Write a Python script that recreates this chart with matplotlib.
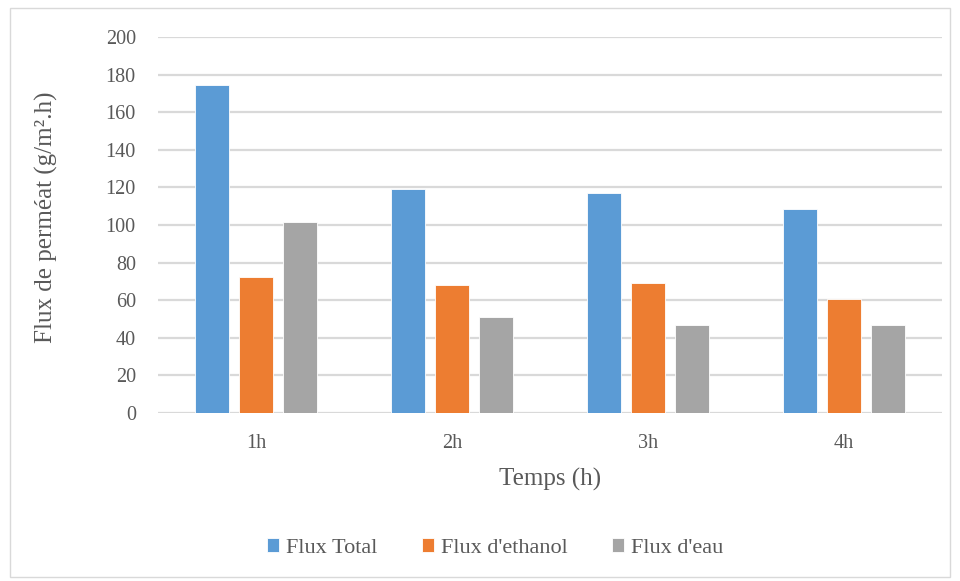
import numpy as np
import matplotlib.pyplot as plt
from matplotlib.patches import Rectangle

# data
categories = ["1h", "2h", "3h", "4h"]
flux_total = [174.5, 119.3, 116.9, 108.3]
flux_ethanol = [72.4, 68.0, 69.3, 60.5]
flux_eau = [101.4, 51.0, 46.8, 46.8]
series_names = ["Flux Total", "Flux d'ethanol", "Flux d'eau"]
colors = ["#5b9bd5", "#ed7d31", "#a5a5a5"]

plt.rcParams['font.family'] = ['Liberation Serif', 'DejaVu Serif']
text_color = "#595959"

fig = plt.figure(figsize=(9.6, 5.81), dpi=100)
ax = fig.add_axes([158 / 960, 1 - 413 / 581, 784 / 960, 376 / 581])

# light grey frame around the whole chart
fig.patches.append(Rectangle((10 / 960, 1 - 577 / 581), 940 / 960, 569 / 581,
                             transform=fig.transFigure, fill=False,
                             edgecolor="#d9d9d9", linewidth=1.0))

x = np.arange(len(categories))
width = 0.175
step = 0.224
for i, (vals, name, c) in enumerate(zip([flux_total, flux_ethanol, flux_eau], series_names, colors)):
    ax.bar(x + (i - 1) * step, vals, width, color=c, label=name,
           edgecolor="white", linewidth=0.6, zorder=3)

ax.set_xlim(-0.5, len(categories) - 0.5)
ax.set_ylim(0, 200)
ax.set_yticks(np.arange(0, 201, 20))
ax.set_xticks(x)
ax.set_xticklabels(categories)
ax.grid(axis="y", color="#d9d9d9", linewidth=1.6, zorder=0)
for s in ax.spines.values():
    s.set_visible(False)
ax.tick_params(length=0, labelsize=14.5, colors=text_color)
ax.tick_params(axis="y", pad=16)
ax.tick_params(axis="x", pad=15)

ax.set_ylabel("Flux de perméat (g/m².h)", fontsize=18, color=text_color)
ax.yaxis.set_label_coords(-0.142, 0.52)
ax.yaxis.label.set_va("center")
ax.set_xlabel("Temps (h)", fontsize=18, color=text_color)
ax.xaxis.set_label_coords(0.5, -0.178)
ax.xaxis.label.set_va("center")

leg = fig.legend(loc="center", bbox_to_anchor=(495 / 960, 1 - 548 / 581), ncol=3,
                 frameon=False, fontsize=16, handlelength=0.55, handleheight=0.55,
                 handletextpad=0.3, columnspacing=2.0)
for t in leg.get_texts():
    t.set_color(text_color)

fig.savefig("out.png", dpi=100)
